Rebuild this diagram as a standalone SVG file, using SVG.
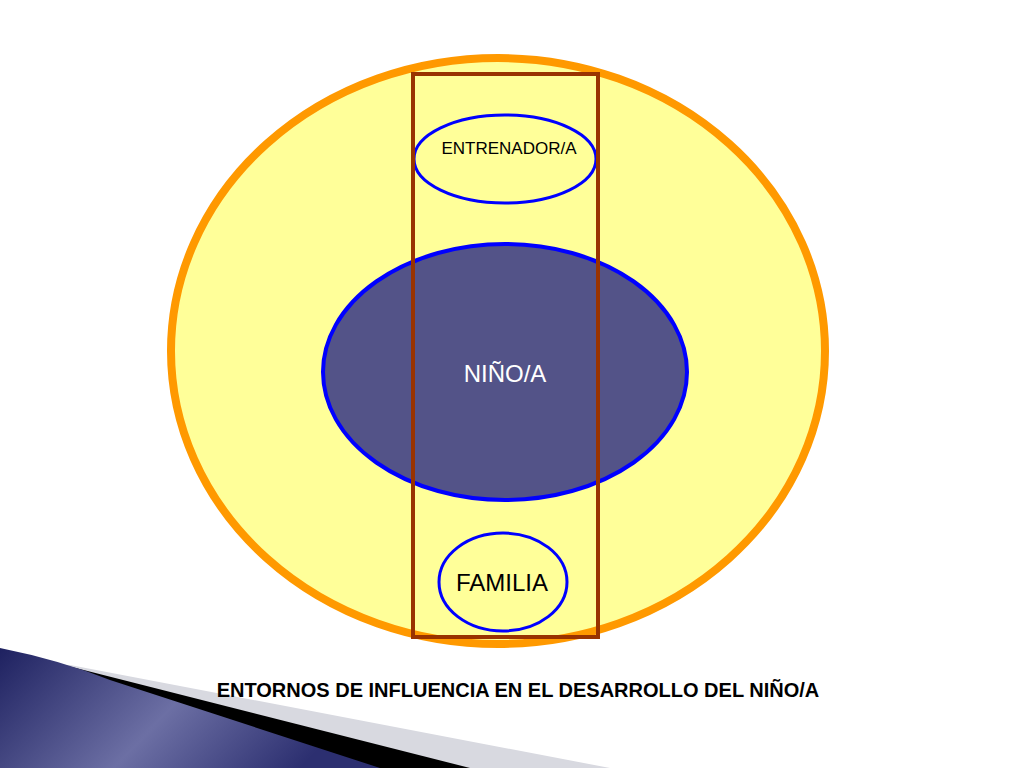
<svg xmlns="http://www.w3.org/2000/svg" width="1024" height="768" viewBox="0 0 1024 768">
<defs>
<linearGradient id="bl" x1="0" y1="0" x2="1" y2="0.3">
<stop offset="0" stop-color="#1e2160"/><stop offset="0.55" stop-color="#6c6fa4"/><stop offset="1" stop-color="#2c2f70"/>
</linearGradient>
<style>text{font-family:"Liberation Sans",Arial,sans-serif;text-anchor:middle}</style>
</defs>
<rect width="1024" height="768" fill="#fff"/>
<g id="decor">
<path d="M0 663 L70 665 L610 768 L0 768 Z" fill="#d8d9e0"/>
<path d="M0 655 L60 664 L470 768 L0 768 Z" fill="#000"/>
<path d="M0 648 Q60 660 110 680 L380 768 L0 768 Z" fill="url(#bl)"/>
</g>
<g id="outer"><ellipse cx="498" cy="351" rx="327" ry="293" fill="#ffff99" stroke="#ff9900" stroke-width="8"/></g>
<g id="nino"><ellipse cx="505" cy="372" rx="182" ry="128" fill="#535388" stroke="#0000ff" stroke-width="4"/>
<text x="505" y="382" font-size="24" fill="#fff">NIÑO/A</text></g>
<g id="entrenador"><ellipse cx="505" cy="159" rx="91" ry="44" fill="#ffff99" stroke="#0000ff" stroke-width="3"/>
<text x="509" y="154" font-size="17" fill="#000">ENTRENADOR/A</text></g>
<g id="familia"><ellipse cx="503" cy="582" rx="64" ry="49" fill="#ffff99" stroke="#0000ff" stroke-width="3"/>
<text x="502" y="591" font-size="24" fill="#000">FAMILIA</text></g>
<g id="connectors"><rect x="413" y="74" width="185" height="563" fill="none" stroke="#993300" stroke-width="4"/></g>
<text x="518" y="697" font-size="20" font-weight="bold" fill="#000">ENTORNOS DE INFLUENCIA EN EL DESARROLLO DEL NIÑO/A</text>
</svg>
